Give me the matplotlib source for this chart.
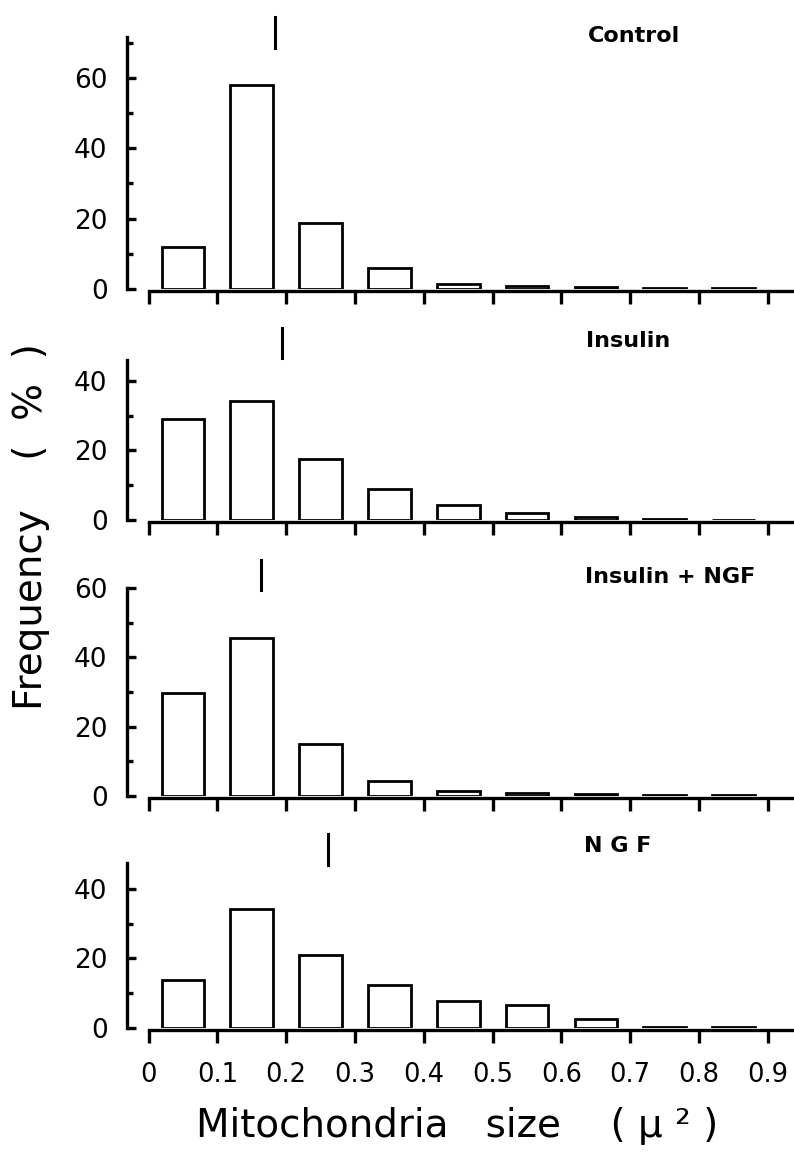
import matplotlib
matplotlib.use('Agg')
import matplotlib.pyplot as plt

# bin centres (mitochondria size, u^2)
bin_mid = [0.05, 0.15, 0.25, 0.35, 0.45, 0.55, 0.65, 0.75, 0.85]

control = [12.0, 58.0, 18.8, 5.9, 1.4, 0.85, 0.6, 0.4, 0.2]
insulin = [29.0, 34.2, 17.5, 8.9, 4.4, 2.0, 0.9, 0.4, 0.0]
ins_ngf = [29.6, 45.7, 14.9, 4.4, 1.3, 1.0, 0.5, 0.3, 0.2]
ngf = [13.7, 34.1, 21.1, 12.3, 7.9, 6.5, 2.7, 0.4, 0.3]

names = ['Control', 'Insulin', 'Insulin + NGF', 'N G F']
means = [0.184, 0.194, 0.163, 0.261]
series = [control, insulin, ins_ngf, ngf]

ymax = [71.5, 46, 60, 47.4]
major = [[0, 20, 40, 60], [0, 20, 40], [0, 20, 40, 60], [0, 20, 40]]
minor = [[10, 30, 50, 70], [10, 30], [10, 30, 50], [10, 30]]
mark_y = [(68.6, 77.3), (46.7, 55.3), (59.3, 68.0), (46.7, 55.8)]
xticks = [0, 0.1, 0.2, 0.3, 0.4, 0.5, 0.6, 0.7, 0.8, 0.9]
xlabels = ['0', '0.1', '0.2', '0.3', '0.4', '0.5', '0.6', '0.7', '0.8', '0.9']

W, H = 794, 1152
# pixel layout: (y of zero line, y of top of spine)
rows = [(289, 37.3), (520, 360), (796, 588), (1028, 863)]
title_pos = [(634, 36), (628, 341), (670, 577), (618, 846)]

fig = plt.figure(figsize=(W / 100, H / 100), dpi=100)
lw = 2.4

for i in range(4):
    y0, y1 = rows[i]
    ax = fig.add_axes([127 / W, 1 - y0 / H, 665 / W, (y0 - y1) / H])
    ax.bar(bin_mid, series[i], width=0.062, facecolor='white', edgecolor='black', linewidth=2.0)
    ax.set_xlim(-0.03125, 0.935)
    ax.set_ylim(0, ymax[i])

    ax.spines['top'].set_visible(False)
    ax.spines['right'].set_visible(False)
    ax.spines['left'].set_linewidth(lw)
    ax.spines['bottom'].set_linewidth(lw)
    ax.spines['left'].set_bounds(0, ymax[i])
    ax.spines['bottom'].set_bounds(0, 0.935)
    ax.spines['bottom'].set_position(('outward', 1.5))

    ax.set_yticks(major[i])
    ax.set_yticks(minor[i], minor=True)
    ax.set_yticklabels([str(v) for v in major[i]], fontsize=19, family='DejaVu Sans')
    ax.tick_params(axis='y', which='major', direction='in', length=6.5, width=lw, pad=14)
    ax.tick_params(axis='y', which='minor', direction='in', length=4, width=lw)

    ax.set_xticks(xticks)
    ax.tick_params(axis='x', direction='out', length=9, width=lw, pad=14)
    if i == 3:
        ax.set_xticklabels(xlabels, fontsize=18.5, family='DejaVu Sans')
    else:
        ax.set_xticklabels([])

    ax.plot([means[i], means[i]], mark_y[i], color='black', linewidth=2.2, clip_on=False)

    tx, ty = title_pos[i]
    fig.text(tx / W, 1 - ty / H, names[i], ha='center', va='center',
             fontsize=16, fontweight='bold', family='DejaVu Sans')

fig.text(42 / W, 1 - 710 / H, 'Frequency    (  %  )', rotation=90, rotation_mode='anchor',
         ha='left', va='baseline', fontsize=28, family='DejaVu Sans')
fig.text(196 / W, 1 - 1137 / H, 'Mitochondria   size    ( \u03bc \u00b2 )', ha='left', va='baseline',
         fontsize=28, family='DejaVu Sans')

plt.savefig('out.png', dpi=100)
